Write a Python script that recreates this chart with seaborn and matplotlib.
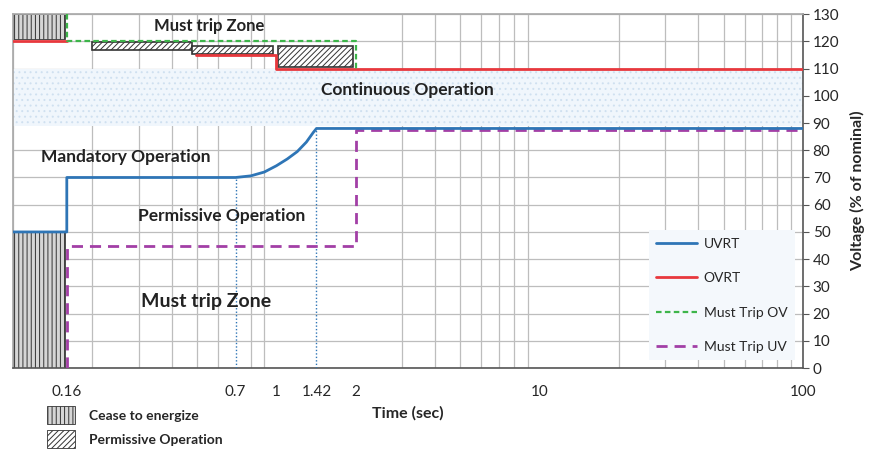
import numpy as np
import pandas as pd
import matplotlib
matplotlib.use("Agg")
import matplotlib.pyplot as plt
from matplotlib.patches import Rectangle, Patch
from matplotlib.lines import Line2D
from matplotlib.ticker import FixedLocator, FixedFormatter, NullFormatter
import seaborn as sns

# ride-through curves (time in s, voltage in % of nominal)
uvrt_t = [0.1, 0.16, 0.16, 0.7, 0.8, 0.9, 1.0, 1.1, 1.2, 1.3, 1.38, 1.42, 100]
uvrt_v = [50, 50, 70, 70, 70.6, 72, 74.3, 76.8, 79.5, 83, 86.5, 88, 88]

ovrt_t = [0.1, 0.16, 0.495, 1.0, 1.0, 100]
ovrt_v = [120, 120, 115, 115, 110, 110]
ovrt_seg = [0, 0, 1, 1, 1, 1]

mtov_t = [0.16, 0.16, 2, 2]
mtov_v = [130, 120, 120, 110]

mtuv_t = [0.16, 0.16, 2, 2, 100]
mtuv_v = [0, 45, 45, 87.5, 87.5]

# zones
cease_t0 = [0.1, 0.1]
cease_t1 = [0.157, 0.157]
cease_lo = [0, 121]
cease_hi = [50, 130]

perm_t0 = [0.2, 0.48, 1.01]
perm_t1 = [0.48, 0.97, 1.95]
perm_lo = [117, 115.5, 110.5]
perm_hi = [119.6, 118.3, 118.3]

band_lo = 89
band_hi = 110

marker_t = [0.7, 1.42]
marker_v = [70, 88]

xtick_vals = [0.16, 0.7, 1, 1.42, 2, 10, 100]
xtick_labels = ["0.16", "0.7", "1", "1.42", "2", "10", "100"]
ytick_vals = list(range(0, 131, 10))

c_uvrt = "#2E75B6"
c_ovrt = "#E8383D"
c_mtov = "#3DB54A"
c_mtuv = "#A23FA6"

sns.set_theme(style="white")
plt.rcParams['font.family'] = ['Lato', 'DejaVu Sans']
plt.rcParams['hatch.linewidth'] = 0.7

fig = plt.figure(figsize=(8.7, 4.55), dpi=100)
ax = fig.add_axes([0.015, 0.191, 0.908, 0.778])

ax.set_xscale("log")
ax.set_xlim(0.1, 100)
ax.set_ylim(0, 130)

# grid on every log sub-decade and every 10 %
minor = [s * 10.0 ** e for e in (-1, 0, 1) for s in range(1, 10)] + [100]
ax.xaxis.set_minor_locator(FixedLocator(minor))
ax.xaxis.set_minor_formatter(NullFormatter())
ax.xaxis.set_major_locator(FixedLocator(xtick_vals))
ax.xaxis.set_major_formatter(FixedFormatter(xtick_labels))
ax.set_yticks(ytick_vals)
ax.grid(False)
ax.grid(True, which="minor", axis="x", color="#BDBDBD", lw=0.9, zorder=0)
ax.grid(True, which="major", axis="y", color="#BDBDBD", lw=0.9, zorder=0)
ax.set_axisbelow(True)

# continuous operation band
ax.fill_between([0.1, 100], band_lo, band_hi, facecolor="#F0F6FC",
                edgecolor="#CFE0F0", hatch="...", lw=0, zorder=1)

for t0, t1, lo, hi in zip(cease_t0, cease_t1, cease_lo, cease_hi):
    ax.add_patch(Rectangle((t0, lo), t1 - t0, hi - lo, facecolor="#D6D6D6",
                           edgecolor="#333333", hatch="||||", lw=0.6, zorder=2))
for t0, t1, lo, hi in zip(perm_t0, perm_t1, perm_lo, perm_hi):
    ax.add_patch(Rectangle((t0, lo), t1 - t0, hi - lo, facecolor="white",
                           edgecolor="#333333", hatch="//////", lw=1.2, zorder=2))

ax.vlines(marker_t, 0, marker_v, colors=c_uvrt, linestyles=(0, (1, 1.5)), lw=1.0, zorder=3)

uvrt_df = pd.DataFrame({"t": uvrt_t, "v": uvrt_v})
ovrt_df = pd.DataFrame({"t": ovrt_t, "v": ovrt_v, "seg": ovrt_seg})
mtov_df = pd.DataFrame({"t": mtov_t, "v": mtov_v})
mtuv_df = pd.DataFrame({"t": mtuv_t, "v": mtuv_v})

sns.lineplot(data=ovrt_df, x="t", y="v", units="seg", estimator=None, sort=False,
             color=c_ovrt, lw=2.0, ax=ax, zorder=4)
sns.lineplot(data=mtuv_df, x="t", y="v", estimator=None, sort=False,
             color=c_mtuv, lw=2.0, linestyle=(0, (4, 2.5)), ax=ax, zorder=4)
sns.lineplot(data=uvrt_df, x="t", y="v", estimator=None, sort=False,
             color=c_uvrt, lw=2.0, ax=ax, zorder=5)
sns.lineplot(data=mtov_df, x="t", y="v", estimator=None, sort=False,
             color=c_mtov, lw=1.6, linestyle=(0, (2.5, 1.5)), ax=ax, zorder=5)

ax.set_xlabel("Time (sec)", fontsize=11.5, fontweight="bold", labelpad=5)
ax.set_ylabel("Voltage (% of nominal)", fontsize=11.5, fontweight="bold", labelpad=8)
ax.yaxis.tick_right()
ax.yaxis.set_label_position("right")
ax.tick_params(axis="both", which="major", labelsize=11, length=4, width=0.8,
               color="#555555", pad=3)
ax.tick_params(axis="both", which="minor", length=0)
ax.tick_params(axis="x", which="major", pad=8)
for side in ["top", "left"]:
    ax.spines[side].set_color("#AAAAAA")
for side in ["bottom", "right"]:
    ax.spines[side].set_color("#555555")
    ax.spines[side].set_linewidth(1.2)

# zone labels
txt = dict(fontweight="bold", color="#222222", ha="center", va="center", zorder=6)
ax.text(0.556, 125.5, "Must trip Zone", fontsize=12, **txt)
ax.text(3.15, 102, "Continuous Operation", fontsize=12.5, **txt)
ax.text(0.269, 77.5, "Mandatory Operation", fontsize=12.5, **txt)
ax.text(0.618, 56, "Permissive Operation", fontsize=12.5, **txt)
ax.text(0.542, 24.5, "Must trip Zone", fontsize=14, **txt)

handles = [Line2D([], [], color=c_uvrt, lw=2.0),
           Line2D([], [], color=c_ovrt, lw=2.0),
           Line2D([], [], color=c_mtov, lw=1.6, linestyle=(0, (2.5, 1.5))),
           Line2D([], [], color=c_mtuv, lw=2.0, linestyle=(0, (4, 2.5)))]
leg = ax.legend(handles, ["UVRT", "OVRT", "Must Trip OV", "Must Trip UV"],
                loc="lower right", bbox_to_anchor=(0.995, 0.01), fontsize=10,
                frameon=True, fancybox=False, framealpha=1, facecolor="#F4F8FC",
                edgecolor="none", labelspacing=1.6, handlelength=2.9,
                borderpad=0.55, handletextpad=0.5, borderaxespad=0.3)
leg.set_zorder(7)

zone_handles = [Patch(facecolor="#D6D6D6", edgecolor="#333333", hatch="||||", lw=0.6),
                Patch(facecolor="white", edgecolor="#333333", hatch="//////", lw=0.6)]
fig.legend(zone_handles, ["Cease to energize", "Permissive Operation"],
           loc="upper left", bbox_to_anchor=(0.04, 0.135), fontsize=10,
           frameon=False, handlelength=2.0, handleheight=1.6,
           labelspacing=0.45, handletextpad=1.0,
           prop={"weight": "bold", "size": 10})

fig.savefig("out.png", dpi=100)
